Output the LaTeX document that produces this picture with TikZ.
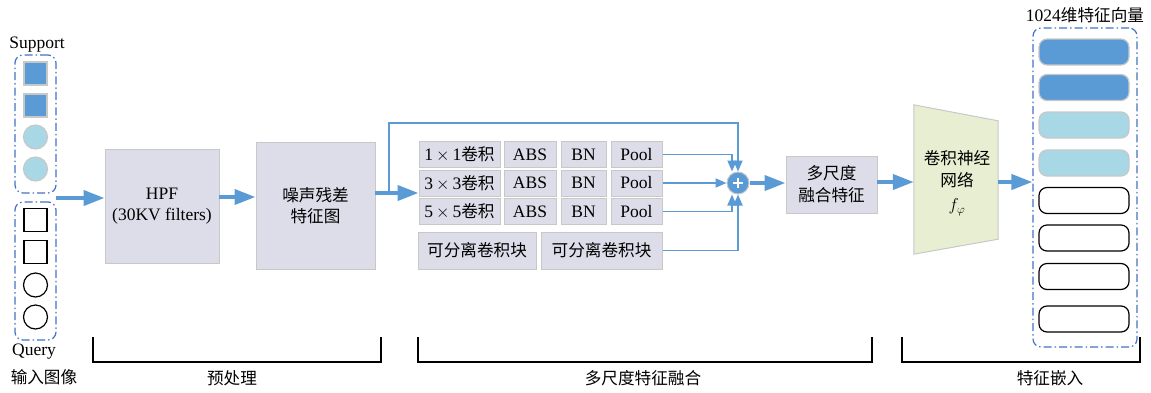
\documentclass[tikz,border=0pt]{standalone}
\usepackage{fontspec}
\setmainfont{Liberation Serif}
\newfontfamily\cjk[Scale=0.95]{Noto Sans CJK SC}
\usetikzlibrary{arrows.meta}
\definecolor{arrblue}{HTML}{5B9BD5}
\definecolor{dashblue}{HTML}{4472C4}
\definecolor{boxfill}{HTML}{DDDDEA}
\definecolor{boxline}{HTML}{C8C8C8}
\definecolor{lblue}{HTML}{A8D8E6}
\definecolor{cnnfill}{HTML}{E8EED2}
\tikzset{
  txt/.style={font=\fontsize{17.5}{21}\selectfont, inner sep=0pt},
  grbox/.style={draw=boxline, fill=boxfill, line width=1pt, inner sep=0pt,
     font=\fontsize{17.5}{21}\selectfont, align=center},
  thick arrow/.style={draw=arrblue, line width=4pt, -{Triangle[length=21pt,width=15pt]}},
  thin arrow/.style={draw=arrblue, line width=1.8pt, -{Triangle[length=11pt,width=9pt]}},
  dashgroup/.style={draw=dashblue, line width=1.2pt, rounded corners=8pt,
     dash pattern=on 8pt off 3pt on 1.5pt off 3pt},
  bluesq/.style={draw=boxline, fill=arrblue, line width=1.2pt, minimum size=23pt, inner sep=0pt},
  bluecirc/.style={circle, draw=boxline, fill=lblue, line width=1.2pt, minimum size=24pt, inner sep=0pt},
  whsq/.style={draw=black, fill=white, line width=1.2pt, minimum size=23pt, inner sep=0pt},
  whcirc/.style={circle, draw=black, fill=white, line width=1.2pt, minimum size=24pt, inner sep=0pt},
  bar/.style={rounded corners=8pt, line width=1.2pt, minimum width=90pt, minimum height=26pt, inner sep=0pt},
  bracket/.style={draw=black, line width=1.3pt},
}
\begin{document}
\begin{tikzpicture}[x=1pt,y=-1pt]
\useasboundingbox (0,0) rectangle (1151,392);

% input groups
\node[dashgroup, minimum width=41pt, minimum height=138pt] (sup) at (35.5,124) {};
\node[dashgroup, minimum width=41pt, minimum height=138pt] (qry) at (35.5,271) {};
\node[bluesq] (s1) at (35.5,73.5) {};
\node[bluesq] (s2) at (35.5,105.5) {};
\node[bluecirc] (s3) at (35.5,137) {};
\node[bluecirc] (s4) at (35.5,169) {};
\node[whsq] (q1) at (35.5,220) {};
\node[whsq] (q2) at (35.5,252) {};
\node[whcirc] (q3) at (35.5,285) {};
\node[whcirc] (q4) at (35.5,317) {};
\node[txt] (lsup) at (37,45) {Support};
\node[txt] (lqry) at (34,352) {Query};
\node[txt] (lin) at (44,377) {\cjk 输入图像};

% preprocessing
\node[grbox, minimum width=114pt, minimum height=114pt] (hpf) at (162,206) {HPF\\(30KV filters)};
\node[grbox, minimum width=119pt, minimum height=127pt] (noise) at (315.5,205.5) {\cjk 噪声残差\\\cjk 特征图};
\coordinate (inpt) at (56,198);
\draw[thick arrow] (inpt) -- (inpt -| hpf.west);
\coordinate (hpfo) at (219,197);
\draw[thick arrow] (hpfo) -- (hpfo -| noise.west);

% multi-scale block
\foreach \r/\y/\k in {1/154.5/1, 2/183/3, 3/211.5/5}{
  \node[grbox, minimum width=81pt, minimum height=26pt] (c\r) at (459.5,\y) {\k\,$\times$\,\k{\cjk 卷积}};
  \node[grbox, minimum width=52pt, minimum height=26pt] (a\r) at (530,\y) {ABS};
  \node[grbox, minimum width=45pt, minimum height=26pt] (b\r) at (583.5,\y) {BN};
  \node[grbox, minimum width=51pt, minimum height=26pt] (p\r) at (636.5,\y) {Pool};
}
\node[grbox, minimum width=118pt, minimum height=37pt] (sep1) at (477,250.5) {\cjk 可分离卷积块};
\node[grbox, minimum width=121pt, minimum height=37pt] (sep2) at (601.5,250.5) {\cjk 可分离卷积块};

\node[circle, draw=boxline, fill=arrblue, line width=1pt, minimum size=22pt, inner sep=0pt] (plus) at (738,183) {};
\draw[white, line width=1.6pt] ([xshift=-5pt]plus.center) -- ([xshift=5pt]plus.center)
   ([yshift=-5pt]plus.center) -- ([yshift=5pt]plus.center);

\coordinate (nout) at (375,193);
\coordinate (split) at (389,193);
\coordinate (skiptop) at (738,123);
\draw[thick arrow] (nout) -- (nout -| c2.west);
\draw[thin arrow] (split) |- (skiptop) -- (plus.north);
\draw[thin arrow] (p1.east) -| ([xshift=-6pt]plus.north);
\draw[thin arrow] (p2.east) -- (plus.west);
\draw[thin arrow] (p3.east) -| ([xshift=-6pt]plus.south);
\draw[thin arrow] (sep2.east) -| (plus.south);

% fused features
\node[grbox, minimum width=91pt, minimum height=57pt] (msf) at (831.5,184.5) {\cjk 多尺度\\[1pt]\cjk 融合特征};
\draw[thick arrow] (plus.east) -- (plus.east -| msf.west);

% CNN trapezoid
\node[minimum width=84pt, minimum height=149pt, inner sep=0pt] (cnn) at (956,179.5) {};
\draw[draw=boxline, fill=cnnfill, line width=1pt] (cnn.north west) -- ([yshift=-16pt]cnn.north east)
   -- ([yshift=15pt]cnn.south east) -- (cnn.south west) -- cycle;
\node[txt, align=center] (cnntxt) at (957,183) {\cjk 卷积神经\\[1pt]\cjk 网络\\[3pt]$f_{\varphi}$};
\coordinate (msfo) at (877,182);
\draw[thick arrow] (msfo) -- (msfo -| cnn.west);

% embeddings
\node[dashgroup, minimum width=104pt, minimum height=319pt] (emb) at (1085,187.5) {};
\node[txt] (lemb) at (1085,15) {1024{\cjk 维特征向量}};
\node[bar, draw=boxline, fill=arrblue] (e1) at (1084,52) {};
\node[bar, draw=boxline, fill=arrblue] (e2) at (1084,87.5) {};
\node[bar, draw=boxline, fill=lblue] (e3) at (1084,125) {};
\node[bar, draw=boxline, fill=lblue] (e4) at (1084,163) {};
\node[bar, draw=black, fill=white] (e5) at (1084,200.5) {};
\node[bar, draw=black, fill=white] (e6) at (1084,238) {};
\node[bar, draw=black, fill=white] (e7) at (1084,276.5) {};
\node[bar, draw=black, fill=white] (e8) at (1084,319) {};
\coordinate (cnno) at (998,182);
\draw[thick arrow] (cnno) -- (cnno -| emb.west);

% brackets
\draw[bracket] (93,337) |- (381,362) -- (381,337);
\draw[bracket] (418,337) |- (872,362) -- (872,337);
\draw[bracket] (902,337) |- (1140,362) -- (1140,337);
\node[txt] (l1) at (232,378) {\cjk 预处理};
\node[txt] (l2) at (643,378) {\cjk 多尺度特征融合};
\node[txt] (l3) at (1050,378) {\cjk 特征嵌入};
\end{tikzpicture}
\end{document}
